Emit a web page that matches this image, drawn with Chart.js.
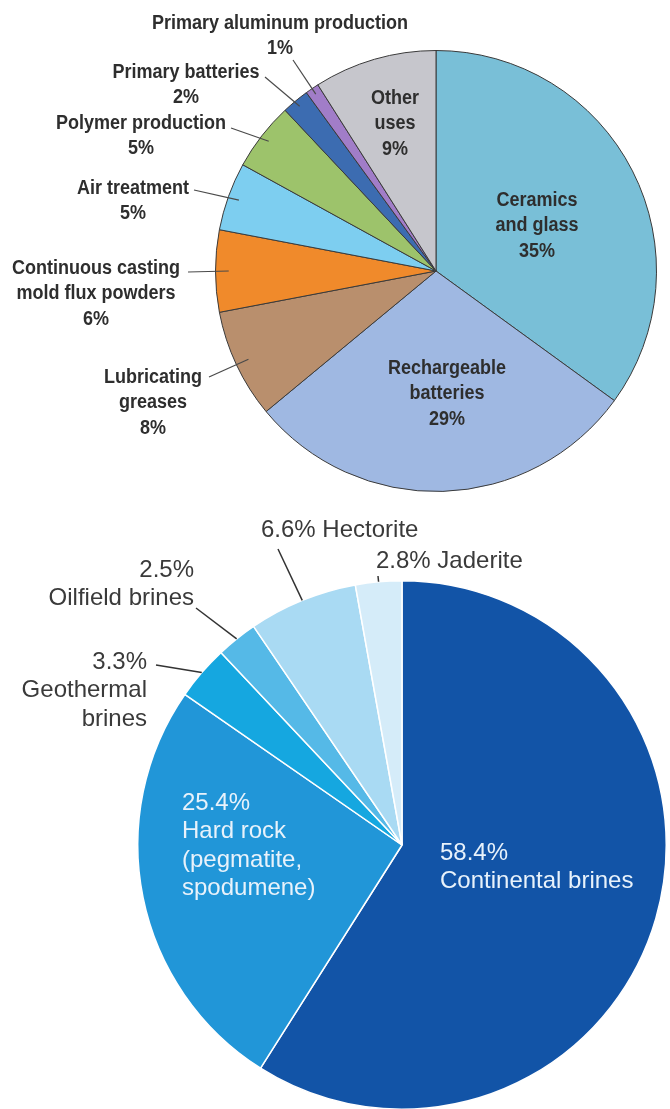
<!DOCTYPE html>
<html lang="en">
<head>
<meta charset="UTF-8">
<title>Lithium: end uses and sources</title>
<script src="https://cdn.jsdelivr.net/npm/chart.js@4.4.1/dist/chart.umd.min.js"></script>
<style>
  html, body { margin: 0; padding: 0; background: #fff; overflow: hidden; }
  .pie { position: absolute; left: 0; }
  #usesWrap { top: 0; }
  #sourcesWrap { top: 520px; }
</style>
</head>
<body>
<div class="pie" id="usesWrap"><canvas id="usesChart" width="670" height="520"></canvas></div>
<div class="pie" id="sourcesWrap"><canvas id="sourcesChart" width="670" height="600"></canvas></div>
<script>
// End uses (percent), clockwise from 12 o'clock
const useLabels = [
  'Ceramics\nand glass',
  'Rechargeable\nbatteries',
  'Lubricating\ngreases',
  'Continuous casting\nmold flux powders',
  'Air treatment',
  'Polymer production',
  'Primary batteries',
  'Primary aluminum production',
  'Other\nuses'
];
const useShares = [35, 29, 8, 6, 5, 5, 2, 1, 9];
const useColors = ['#79bfd7', '#9fb8e2', '#b98f6d', '#f08a2b', '#7dcef0', '#9dc36b', '#3c6cb1', '#a17dc8', '#c6c6cc'];

// Sources (percent), clockwise from 12 o'clock
const sourceLabels = [
  'Continental brines',
  'Hard rock\n(pegmatite,\nspodumene)',
  'Geothermal\nbrines',
  'Oilfield brines',
  'Hectorite',
  'Jaderite'
];
const sourceShares = [58.4, 25.4, 3.3, 2.5, 6.6, 2.8];
const sourceColors = ['#1254a7', '#2196d8', '#15a7e0', '#55b9e7', '#a9daf3', '#d5ecf9'];

// draws the text blocks and leader lines for each slice
const callouts = {
  id: 'callouts',
  afterDatasetsDraw(chart, args, opts) {
    const ctx = chart.ctx;
    const arcs = chart.getDatasetMeta(0).data;
    const values = chart.data.datasets[0].data;
    const names = chart.data.labels;
    const sx = opts.scaleX || 1;
    ctx.save();
    opts.items.forEach(item => {
      const arc = arcs[item.index];
      const p = arc.getProps(['x', 'y', 'startAngle', 'endAngle', 'outerRadius'], true);
      const mid = (p.startAngle + p.endAngle) / 2;
      if (item.leader) {
        const r = p.outerRadius * item.leader.depth;
        ctx.beginPath();
        ctx.moveTo(item.leader.from[0], item.leader.from[1]);
        ctx.lineTo(p.x + Math.cos(mid) * r, p.y + Math.sin(mid) * r);
        ctx.strokeStyle = opts.leaderColor;
        ctx.lineWidth = opts.leaderWidth;
        ctx.stroke();
      }
      const pct = values[item.index] + '%';
      const nameLines = names[item.index].split('\n');
      let lines;
      if (item.inline) lines = [pct + ' ' + nameLines.join(' ')];
      else lines = opts.valueFirst ? [pct, ...nameLines] : [...nameLines, pct];
      ctx.font = opts.font;
      ctx.fillStyle = item.color || opts.color;
      ctx.textAlign = item.align || 'center';
      ctx.textBaseline = 'middle';
      lines.forEach((line, i) => {
        // narrow the glyphs horizontally for the condensed look
        ctx.save();
        ctx.translate(item.x, item.y + i * opts.lineHeight);
        ctx.scale(sx, 1);
        ctx.fillText(line, 0, 0);
        ctx.restore();
      });
    });
    ctx.restore();
  }
};

new Chart(document.getElementById('usesChart'), {
  type: 'pie',
  data: {
    labels: useLabels,
    datasets: [{
      data: useShares,
      backgroundColor: useColors,
      borderColor: '#3a3a3a',
      borderWidth: 1
    }]
  },
  options: {
    responsive: false,
    animation: false,
    devicePixelRatio: 1,
    layout: { padding: { left: 215, top: 50, right: 13, bottom: 28 } },
    plugins: {
      legend: { display: false },
      tooltip: { enabled: false },
      callouts: {
        font: 'bold 20px "Liberation Sans", Arial, sans-serif',
        scaleX: 0.9,
        color: '#2e2e2e',
        lineHeight: 25.5,
        leaderColor: '#4a4a4a',
        leaderWidth: 1.2,
        items: [
          { index: 7, x: 280, y: 23, leader: { from: [293, 60], depth: 0.97 } },
          { index: 6, x: 186, y: 72, leader: { from: [265, 77], depth: 0.97 } },
          { index: 5, x: 141, y: 123, leader: { from: [231, 128], depth: 0.96 } },
          { index: 4, x: 133, y: 188, leader: { from: [194, 190], depth: 0.95 } },
          { index: 3, x: 96, y: 268, leader: { from: [188, 272], depth: 0.94 } },
          { index: 2, x: 153, y: 377, leader: { from: [209, 377], depth: 0.94 } },
          { index: 8, x: 395, y: 98 },
          { index: 0, x: 537, y: 200 },
          { index: 1, x: 447, y: 368 }
        ]
      }
    }
  },
  plugins: [callouts]
});

new Chart(document.getElementById('sourcesChart'), {
  type: 'pie',
  data: {
    labels: sourceLabels,
    datasets: [{
      data: sourceShares,
      backgroundColor: sourceColors,
      borderColor: '#ffffff',
      borderWidth: 1.5
    }]
  },
  options: {
    responsive: false,
    animation: false,
    devicePixelRatio: 1,
    layout: { padding: { left: 137, top: 60, right: 3, bottom: 10 } },
    plugins: {
      legend: { display: false },
      tooltip: { enabled: false },
      callouts: {
        font: '24px "Liberation Sans", Arial, sans-serif',
        color: '#3a3a3a',
        valueFirst: true,
        lineHeight: 28.5,
        leaderColor: '#333333',
        leaderWidth: 1.5,
        items: [
          { index: 4, inline: true, align: 'left', x: 261, y: 10, leader: { from: [278, 29], depth: 1 } },
          { index: 5, inline: true, align: 'left', x: 376, y: 41, leader: { from: [378, 56], depth: 1 } },
          { index: 3, align: 'right', x: 194, y: 50, leader: { from: [196, 88], depth: 1 } },
          { index: 2, align: 'right', x: 147, y: 142, leader: { from: [156, 145], depth: 1 } },
          { index: 1, align: 'left', x: 182, y: 283, color: '#e8f2fb' },
          { index: 0, align: 'left', x: 440, y: 333, color: '#e8f2fb' }
        ]
      }
    }
  },
  plugins: [callouts]
});
</script>
</body>
</html>
